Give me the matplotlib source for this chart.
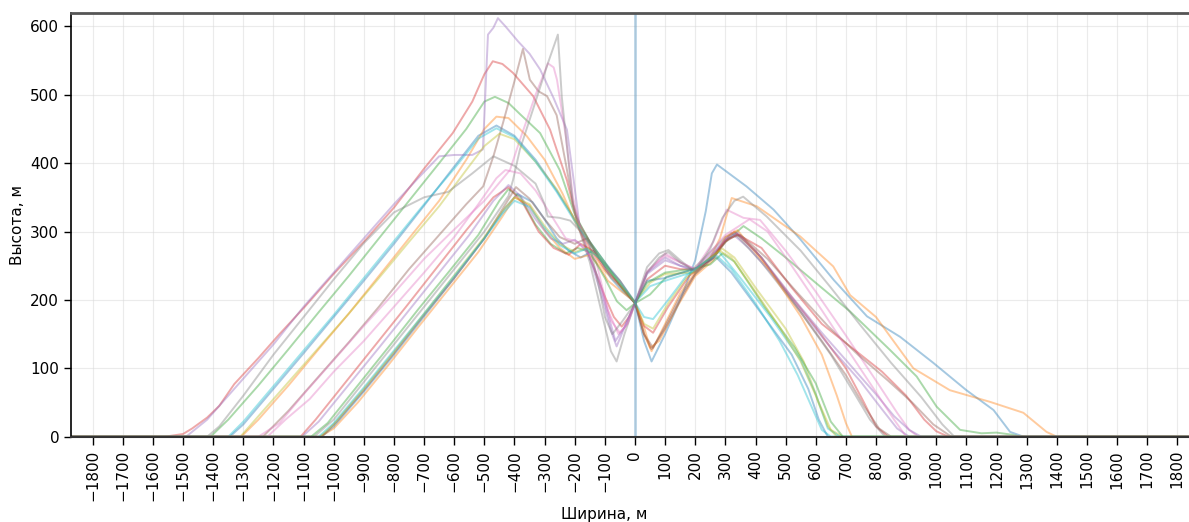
import numpy as np
import matplotlib
matplotlib.use("Agg")
import matplotlib.pyplot as plt

# cross-section profiles, (width m, height m)
prof01 = [(-1900,0),(-1345,0),(-1300,18),(-1200,70),(-1100,122),(-1000,175),(-900,228),(-800,282),(-700,338),(-600,395),(-520,440),(-460,455),(-400,440),(-330,405),(-260,360),(-200,318),(-150,285),(-100,255),(-50,228),(0,197),(30,140),(55,110),(100,150),(150,200),(200,258),(235,330),(255,385),(272,398),(370,366),(460,332),(550,288),(660,229),(770,176),(880,146),(990,108),(1100,68),(1190,39),(1245,7),(1290,0),(1900,0)]
prof02 = [(-1900,0),(-1307,0),(-1250,25),(-1150,75),(-1050,128),(-950,180),(-850,235),(-750,290),(-650,345),(-560,405),(-500,450),(-460,468),(-420,466),(-360,440),(-300,405),(-240,355),(-200,315),(-150,275),(-100,242),(-50,220),(0,197),(30,150),(55,125),(100,165),(150,210),(200,240),(250,262),(282,290),(321,349),(404,337),(548,293),(658,249),(714,207),(800,175),(924,100),(1045,68),(1178,51),(1289,35),(1366,7),(1400,0),(1900,0)]
prof03 = [(-1900,0),(-1409,0),(-1350,25),(-1250,75),(-1150,128),(-1050,182),(-950,235),(-850,290),(-750,345),(-650,400),(-560,450),(-500,490),(-465,497),(-420,488),(-380,471),(-315,444),(-250,390),(-200,325),(-150,285),(-100,255),(-40,215),(0,195),(50,208),(105,234),(200,245),(260,265),(300,285),(360,308),(420,290),(500,262),(600,225),(714,183),(846,127),(935,88),(1001,44),(1079,10),(1150,5),(1200,6),(1250,3),(1280,0),(1900,0)]
prof04 = [(-1900,0),(-1560,0),(-1500,4),(-1470,12),(-1445,20),(-1420,28),(-1380,45),(-1330,77),(-1250,115),(-1180,150),(-1096,190),(-1000,238),(-896,287),(-800,335),(-700,392),(-605,444),(-540,490),(-500,530),(-472,549),(-440,545),(-405,532),(-338,498),(-282,449),(-226,375),(-190,310),(-150,262),(-100,205),(-70,175),(-44,161),(-20,175),(0,195),(40,230),(100,250),(150,245),(200,245),(260,262),(300,288),(330,300),(400,272),(500,215),(600,160),(700,100),(760,50),(800,15),(840,0),(1900,0)]
prof05 = [(-1900,0),(-1490,0),(-1420,25),(-1300,85),(-1200,135),(-1100,190),(-1000,240),(-900,290),(-800,340),(-720,378),(-650,410),(-600,412),(-540,412),(-505,420),(-488,588),(-470,598),(-455,612),(-430,600),(-388,578),(-350,560),(-315,537),(-270,495),(-226,449),(-205,380),(-185,312),(-150,262),(-110,205),(-80,155),(-61,132),(-30,165),(0,195),(40,240),(100,262),(150,250),(200,245),(260,270),(320,298),(380,275),(450,240),(550,185),(650,130),(750,80),(820,40),(870,12),(910,0),(1900,0)]
prof06 = [(-1900,0),(-1235,0),(-1150,38),(-1050,88),(-950,138),(-850,190),(-750,245),(-650,295),(-560,340),(-504,366),(-470,410),(-438,459),(-400,520),(-372,567),(-349,522),(-320,505),(-292,498),(-260,470),(-230,400),(-205,340),(-185,312),(-120,262),(-50,228),(0,195),(30,150),(60,130),(100,162),(150,205),(200,238),(260,262),(300,285),(340,296),(420,262),(520,200),(620,140),(700,90),(760,45),(810,12),(850,0),(1900,0)]
prof07 = [(-1900,0),(-1250,0),(-1180,20),(-1100,62),(-1000,112),(-900,162),(-800,210),(-700,260),(-600,303),(-500,345),(-415,390),(-382,434),(-330,500),(-289,546),(-270,540),(-259,522),(-230,440),(-206,351),(-185,310),(-130,258),(-90,185),(-55,150),(-25,165),(0,195),(40,240),(100,268),(150,255),(200,245),(260,285),(304,332),(360,320),(415,317),(500,272),(600,212),(700,148),(800,82),(870,35),(910,10),(940,0),(1900,0)]
prof08 = [(-1900,0),(-1065,0),(-1000,25),(-900,80),(-800,135),(-700,190),(-600,245),(-500,300),(-420,352),(-405,375),(-382,420),(-339,478),(-290,545),(-256,588),(-243,497),(-220,400),(-206,340),(-183,300),(-150,255),(-110,180),(-80,125),(-61,110),(-35,150),(0,195),(40,248),(80,268),(111,273),(150,258),(190,244),(250,270),(300,292),(330,298),(420,255),(550,182),(650,120),(730,62),(780,25),(830,0),(1900,0)]
prof09 = [(-1900,0),(-1310,0),(-1250,30),(-1150,80),(-1050,130),(-950,180),(-850,232),(-750,285),(-650,337),(-560,390),(-500,425),(-450,443),(-400,435),(-330,402),(-260,362),(-200,318),(-150,282),(-100,250),(-50,224),(0,197),(50,225),(100,238),(200,240),(250,262),(290,275),(330,262),(400,218),(500,158),(560,110),(610,50),(650,10),(690,0),(1900,0)]
prof10 = [(-1900,0),(-1350,0),(-1300,22),(-1200,74),(-1100,126),(-1000,178),(-900,232),(-800,286),(-700,340),(-600,392),(-520,436),(-460,451),(-400,438),(-330,402),(-260,358),(-200,315),(-150,282),(-100,250),(-50,222),(0,196),(50,220),(100,228),(200,242),(260,265),(280,270),(350,232),(450,175),(550,112),(600,62),(640,12),(680,0),(1900,0)]
prof11 = [(-1900,0),(-1040,0),(-1000,15),(-900,66),(-800,120),(-700,176),(-600,232),(-500,290),(-430,335),(-390,355),(-340,343),(-300,318),(-260,290),(-220,272),(-180,262),(-140,272),(-110,255),(-80,232),(-40,212),(0,196),(40,228),(100,232),(200,246),(240,256),(270,262),(320,240),(420,180),(520,120),(575,70),(610,25),(640,0),(1900,0)]
prof12 = [(-1900,0),(-1045,0),(-1000,12),(-920,50),(-820,104),(-720,160),(-620,215),(-520,270),(-440,322),(-400,350),(-350,338),(-300,302),(-250,276),(-200,260),(-150,266),(-120,250),(-90,228),(-50,214),(0,197),(30,160),(50,130),(80,140),(140,190),(200,235),(260,258),(300,292),(340,302),(450,242),(550,176),(620,120),(670,60),(700,20),(720,0),(1900,0)]
prof13 = [(-1900,0),(-1075,0),(-1020,20),(-920,75),(-820,130),(-720,186),(-620,240),(-520,295),(-450,345),(-420,362),(-380,350),(-330,310),(-280,282),(-230,268),(-190,276),(-150,270),(-100,232),(-60,198),(-28,185),(0,195),(40,225),(100,240),(200,246),(250,252),(290,268),(330,256),(430,190),(530,130),(600,78),(650,22),(690,0),(1900,0)]
prof14 = [(-1900,0),(-1110,0),(-1060,25),(-960,80),(-860,135),(-760,190),(-660,246),(-560,302),(-470,350),(-420,365),(-370,340),(-320,300),(-270,276),(-220,266),(-180,282),(-140,272),(-100,245),(-50,222),(0,195),(30,162),(60,152),(110,190),(180,235),(240,256),(300,286),(340,296),(420,276),(520,218),(620,165),(720,130),(820,95),(900,60),(960,25),(1000,8),(1040,0),(1900,0)]
prof15 = [(-1900,0),(-1105,0),(-1050,22),(-950,76),(-850,130),(-750,185),(-650,240),(-550,295),(-470,345),(-420,368),(-380,352),(-330,318),(-280,290),(-240,282),(-200,288),(-160,272),(-120,230),(-90,180),(-65,140),(-35,160),(0,195),(40,238),(100,258),(200,242),(250,262),(300,288),(340,298),(420,262),(520,205),(620,152),(720,102),(800,62),(860,30),(910,10),(950,0),(1900,0)]
prof16 = [(-1900,0),(-1040,0),(-990,22),(-900,68),(-800,122),(-700,178),(-600,232),(-500,290),(-430,340),(-395,365),(-350,348),(-300,318),(-250,292),(-200,282),(-160,290),(-120,262),(-70,232),(-30,212),(0,196),(30,150),(55,128),(100,158),(150,200),(200,238),(260,262),(310,290),(350,295),(440,260),(540,210),(640,162),(740,120),(840,82),(920,50),(990,18),(1050,0),(1900,0)]
prof17 = [(-1900,0),(-1220,0),(-1160,25),(-1080,55),(-1000,95),(-900,140),(-800,190),(-700,240),(-600,292),(-520,340),(-460,378),(-430,390),(-380,385),(-330,360),(-280,325),(-230,290),(-190,285),(-150,265),(-110,215),(-80,170),(-50,152),(-25,165),(0,195),(40,242),(100,265),(150,255),(200,245),(250,270),(300,295),(380,318),(440,300),(520,250),(620,185),(720,118),(800,65),(860,25),(900,0),(1900,0)]
prof18 = [(-1900,0),(-1420,0),(-1380,15),(-1300,60),(-1200,120),(-1100,175),(-1000,230),(-900,283),(-800,328),(-700,350),(-620,358),(-540,385),(-470,410),(-400,396),(-330,370),(-300,340),(-290,322),(-250,320),(-215,316),(-180,300),(-150,280),(-120,220),(-100,175),(-75,150),(-40,170),(0,195),(40,240),(80,262),(110,270),(150,255),(200,242),(250,275),(290,320),(330,345),(359,351),(437,322),(550,272),(650,218),(750,162),(850,108),(950,58),(1020,18),(1060,0),(1900,0)]
prof19 = [(-1900,0),(-1045,0),(-1000,18),(-900,70),(-800,124),(-700,180),(-600,236),(-500,292),(-440,330),(-400,350),(-350,340),(-300,308),(-250,282),(-200,270),(-160,276),(-120,262),(-70,235),(-30,212),(0,196),(30,165),(60,158),(110,195),(170,232),(230,255),(280,272),(320,262),(400,212),(480,160),(550,110),(600,60),(640,15),(670,0),(1900,0)]
prof20 = [(-1900,0),(-1050,0),(-1000,20),(-900,72),(-800,126),(-700,180),(-600,235),(-500,290),(-440,326),(-400,345),(-350,336),(-300,305),(-250,280),(-200,268),(-160,275),(-120,262),(-70,236),(-30,214),(0,196),(30,175),(60,172),(110,200),(170,235),(230,255),(270,265),(320,245),(400,195),(480,140),(540,90),(590,40),(620,10),(650,0),(1900,0)]

profiles = [prof01, prof02, prof03, prof04, prof05, prof06, prof07, prof08, prof09, prof10,
            prof11, prof12, prof13, prof14, prof15, prof16, prof17, prof18, prof19, prof20]

x_ticks = np.arange(-1800, 1801, 100)
y_ticks = np.arange(0, 601, 100)


def main():
    fig = plt.figure(figsize=(11.89, 5.22), dpi=100)
    ax = fig.add_axes([71 / 1189, 85.3 / 522, 1128 / 1189, 424 / 522])

    for p in profiles:
        xs, ys = zip(*p)
        ax.plot(xs, ys, lw=1.4, alpha=0.4)

    ax.axvline(0, color='tab:blue', lw=2, alpha=0.3)

    ax.set_xlim(-1872, 1872)
    ax.set_ylim(0, 620)
    ax.set_xticks(x_ticks)
    ax.set_yticks(y_ticks)
    ax.tick_params(axis='x', labelrotation=90, labelsize=11, length=6, width=1)
    ax.tick_params(axis='y', labelsize=11, length=5, width=1)
    ax.grid(True, color='#d8d8d8', alpha=0.5, lw=0.8)

    ax.spines['top'].set_color('#555555')
    ax.spines['top'].set_linewidth(2)
    ax.spines['bottom'].set_color('#333333')
    ax.spines['bottom'].set_linewidth(1.5)
    ax.spines['left'].set_linewidth(1.2)
    ax.spines['right'].set_visible(False)

    ax.set_xlabel('Ширина, м', fontsize=11)
    ax.xaxis.label.set_x(0.473)
    ax.set_ylabel('Высота, м', fontsize=11)

    fig.savefig('out.png', dpi=100)


if __name__ == '__main__':
    main()
